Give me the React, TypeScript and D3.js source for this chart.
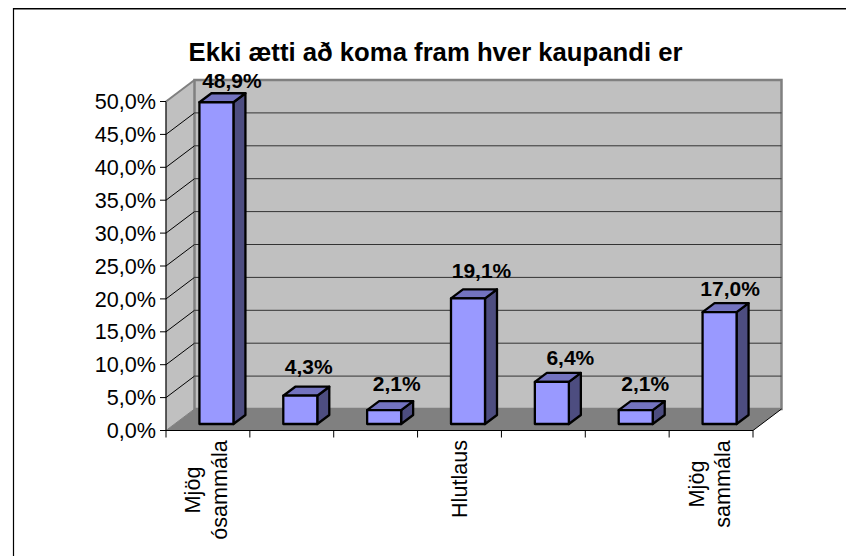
import React from "react";
import * as d3 from "d3";

const categories = ["Mjög ósammála", "b", "c", "Hlutlaus", "e", "f", "Mjög sammála"];
const values = [48.9, 4.3, 2.1, 19.1, 6.4, 2.1, 17.0];
const valueLabels = ["48,9%", "4,3%", "2,1%", "19,1%", "6,4%", "2,1%", "17,0%"];
const categoryLines: string[][] = [["Mjög", "ósammála"], [], [], ["Hlutlaus"], [], [], ["Mjög", "sammála"]];
const ticks = [0, 5, 10, 15, 20, 25, 30, 35, 40, 45, 50];
const tickLabels = ["0,0%", "5,0%", "10,0%", "15,0%", "20,0%", "25,0%", "30,0%", "35,0%", "40,0%", "45,0%", "50,0%"];
const title = "Ekki ætti að koma fram hver kaupandi er";

const FONT = "'Liberation Sans', Arial, sans-serif";
const X0 = 166, X1 = 753, Y0 = 430.5, Y1 = 101.5;
const DX = 28.5, DY = -21.5;
const x = d3.scaleBand<string>().domain(categories).range([X0, X1]).padding(0);
const y = d3.scaleLinear().domain([0, 50]).range([Y0, Y1]);
const BW = 34, BDX = 12, BDY = -9, SX = 8.5, SY = -6.5;
const labelNudgeX = [24, 17, 21, 22, 27, 18, 19];
const labelNudgeY = [-14, -22, -19, -20, -17, -19, -16];

export default function App() {
  const bw = x.bandwidth();
  return (
    <svg width={846} height={556} style={{ position: "absolute", left: 0, top: 0 }} fontFamily={FONT}>
      <rect x={0} y={0} width={846} height={556} fill="#fff" />
      <line x1={13} x2={846} y1={9.5} y2={9.5} stroke="#808080" strokeWidth={1} />
      <line x1={13} x2={846} y1={8.5} y2={8.5} stroke="#000" strokeWidth={1} />
      <line x1={13.5} x2={13.5} y1={8} y2={556} stroke="#000" strokeWidth={1.2} />
      <text x={435.5} y={61} textAnchor="middle" fontSize={25.7} fontWeight="bold">{title}</text>
      {/* walls */}
      <polygon points={`${X0},${Y0} ${X0 + DX},${Y0 + DY} ${X0 + DX},${Y1 + DY} ${X0},${Y1}`} fill="#c0c0c0" stroke="#808080" strokeWidth={1} />
      <polygon points={`${X0 + DX},${Y0 + DY} ${X1 + DX},${Y0 + DY} ${X1 + DX},${Y1 + DY} ${X0 + DX},${Y1 + DY}`} fill="#c0c0c0" stroke="#808080" strokeWidth={2.5} />
      <polygon points={`${X0},${Y0} ${X1},${Y0} ${X1 + DX},${Y0 + DY} ${X0 + DX},${Y0 + DY}`} fill="#808080" />
      {/* gridlines */}
      {ticks.slice(1, -1).map((t) => (
        <g key={t} fill="none">
          <path d={`M${X0},${y(t)}L${X0 + DX},${y(t) + DY}`} stroke="#000" strokeWidth={1} />
          <path d={`M${X0 + DX},${y(t) + DY}H${X1 + DX}`} stroke="#333" strokeWidth={1} />
        </g>
      ))}
      {/* axes */}
      <path d={`M${X0},${Y1}V${Y0}H${X1}L${X1 + DX},${Y0 + DY}`} fill="none" stroke="#000" strokeWidth={1} />
      <line x1={X0} x2={X0 + DX} y1={Y1} y2={Y1 + DY} stroke="#808080" strokeWidth={2} />
      {ticks.map((t, i) => (
        <g key={t}>
          <line x1={X0 - 6} x2={X0} y1={y(t)} y2={y(t)} stroke="#000" />
          <text x={156} y={y(t) + 7.6} textAnchor="end" fontSize={21.6}>{tickLabels[i]}</text>
        </g>
      ))}
      {[...categories.map((c) => x(c)!), X1].map((tx, i) => (
        <line key={i} x1={tx} x2={tx} y1={Y0} y2={Y0 + 7} stroke="#000" />
      ))}
      {/* bars */}
      {categories.map((c, i) => {
        const left = x(c)! + bw / 2 - BW / 2 + SX;
        const right = left + BW;
        const base = Y0 + SY;
        const top = y(values[i]) + SY;
        return (
          <g key={c} stroke="#000" strokeWidth={2.3} strokeLinejoin="round">
            <polygon points={`${right},${top} ${right + BDX},${top + BDY} ${right + BDX},${base + BDY} ${right},${base}`} fill="#4d4d80" />
            <polygon points={`${left},${top} ${left + BDX},${top + BDY} ${right + BDX},${top + BDY} ${right},${top}`} fill="#7373bf" />
            <rect x={left} y={top} width={BW} height={base - top} fill="#9999ff" />
          </g>
        );
      })}
      {/* value labels */}
      {categories.map((c, i) => (
        <text key={c} x={x(c)! + bw / 2 + labelNudgeX[i]} y={y(values[i]) + SY + labelNudgeY[i]} textAnchor="middle" fontSize={21} fontWeight="bold">{valueLabels[i]}</text>
      ))}
      {/* category labels */}
      {categories.map((c, i) => {
        const lines = categoryLines[i];
        const cx = x(c)! + bw / 2;
        const blockTop = 440;
        const half = lines.length === 1 ? 39 : (i === 0 ? 50 : 44);
        return lines.map((ln, j) => {
          const bx = lines.length === 1 ? cx + 7 : cx + (j === 0 ? -7.5 : 19);
          return (
            <text key={j} transform={`translate(${bx},${blockTop + half}) rotate(-90)`} textAnchor="middle" fontSize={21.6}>{ln}</text>
          );
        });
      })}
    </svg>
  );
}
